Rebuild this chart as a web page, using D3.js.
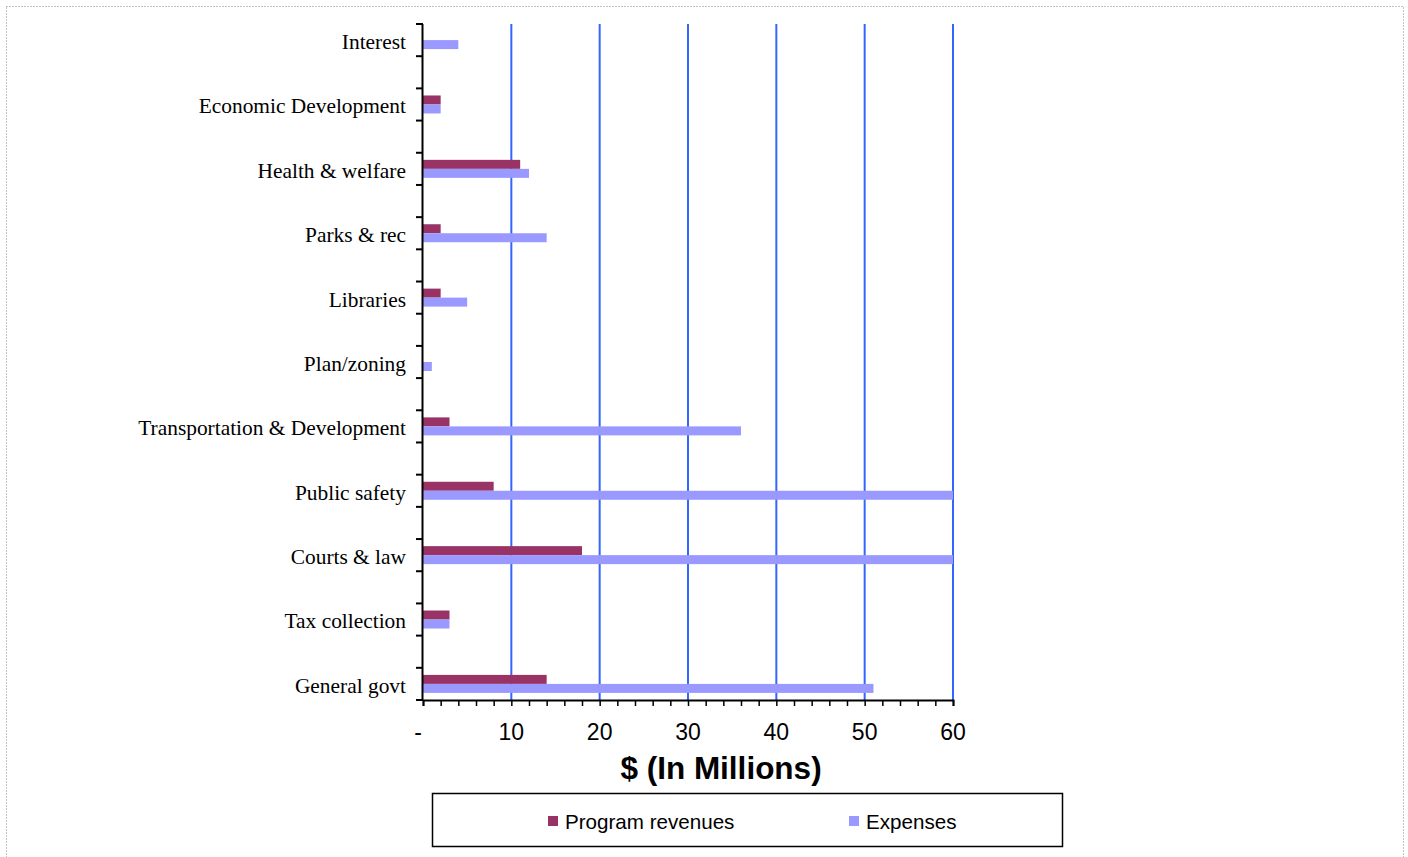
<!DOCTYPE html>
<html>
<head>
<meta charset="utf-8">
<script src="https://cdn.jsdelivr.net/npm/d3@7"></script>
<style>
  body { margin: 0; background: #fff; }
  svg { display: block; }
</style>
</head>
<body>
<div id="chart"></div>
<script>
// categories top -> bottom
var categories = ["Interest", "Economic Development", "Health & welfare", "Parks & rec",
  "Libraries", "Plan/zoning", "Transportation & Development", "Public safety",
  "Courts & law", "Tax collection", "General govt"];
var revenues = [0, 2, 11, 2, 2, 0, 3, 8, 18, 3, 14];
var expenses = [4, 2, 12, 14, 5, 1, 36, 60, 60, 3, 51];
var xTicks = [0, 10, 20, 30, 40, 50, 60];
var seriesNames = ["Program revenues", "Expenses"];
var colors = ["#993366", "#9999FF"];

var width = 1408, height = 857;
var svg = d3.select("#chart").append("svg")
    .attr("width", width)
    .attr("height", height);

// outer dotted frame
svg.append("rect")
    .attr("x", 6.5).attr("y", 6.5)
    .attr("width", 1397).attr("height", 860)
    .attr("fill", "none")
    .attr("stroke", "#888")
    .attr("stroke-dasharray", "1,2");

const pLeft = 423, pRight = 953, pTop = 24, pBottom = 700;
const step = (pBottom - pTop) / 10.5;

var x = d3.scaleLinear().domain([0, 60]).range([pLeft, pRight]);
var y = d3.scalePoint().domain(categories)
    .range([pTop + step / 4, pBottom - step / 4]);
const barH = 9;

// gridlines
svg.append("g").selectAll("line")
    .data(xTicks.filter(d => d > 0))
    .enter().append("line")
    .attr("x1", d => x(d)).attr("x2", d => x(d))
    .attr("y1", pTop).attr("y2", pBottom)
    .attr("stroke", "#3366FF")
    .attr("stroke-width", 2);

// bars
var rows = svg.append("g").selectAll("g")
    .data(categories)
    .enter().append("g");

rows.append("rect")
    .attr("x", pLeft)
    .attr("y", d => y(d) - barH)
    .attr("width", (d, i) => x(revenues[i]) - pLeft)
    .attr("height", barH)
    .attr("fill", colors[0]);

rows.append("rect")
    .attr("x", pLeft)
    .attr("y", d => y(d))
    .attr("width", (d, i) => x(expenses[i]) - pLeft)
    .attr("height", barH)
    .attr("fill", colors[1]);

// category labels
rows.append("text")
    .attr("x", 406)
    .attr("y", d => y(d) + 4)
    .attr("text-anchor", "end")
    .attr("dominant-baseline", "middle")
    .style("font-family", "'Liberation Serif', 'Times New Roman', serif")
    .style("font-size", "21.4px")
    .text(d => d);

// y axis line + ticks every half step
svg.append("line")
    .attr("x1", pLeft - 0.5).attr("x2", pLeft - 0.5)
    .attr("y1", pTop).attr("y2", pBottom)
    .attr("stroke", "#000").attr("stroke-width", 2);
svg.append("g").selectAll("line")
    .data(d3.range(0, 22))
    .enter().append("line")
    .attr("x1", pLeft - 7).attr("x2", pLeft)
    .attr("y1", k => pTop + k * step / 2)
    .attr("y2", k => pTop + k * step / 2)
    .attr("stroke", "#000").attr("stroke-width", 2);

// x axis
var xAxis = d3.axisBottom(x)
    .tickValues(d3.range(0, 61, 2))
    .tickSize(6)
    .tickFormat("");
var gx = svg.append("g")
    .attr("transform", `translate(0,${pBottom})`)
    .call(xAxis);
gx.select(".domain").attr("stroke", "#000").attr("stroke-width", 2);
gx.selectAll(".tick line").attr("stroke", "#000").attr("stroke-width", 1.5);

svg.append("g").selectAll("text")
    .data(xTicks)
    .enter().append("text")
    .attr("x", d => d === 0 ? x(d) - 5 : x(d))
    .attr("y", 740)
    .attr("text-anchor", "middle")
    .style("font-family", "'Liberation Sans', Arial, sans-serif")
    .style("font-size", "23px")
    .text(d => d === 0 ? "-" : d);

svg.append("text")
    .attr("x", 721).attr("y", 779)
    .attr("text-anchor", "middle")
    .style("font-family", "'Liberation Sans', Arial, sans-serif")
    .style("font-size", "31.5px")
    .style("font-weight", "bold")
    .text("$ (In Millions)");

// legend
svg.append("rect")
    .attr("x", 432.5).attr("y", 793.5)
    .attr("width", 630).attr("height", 53)
    .attr("fill", "#fff")
    .attr("stroke", "#000")
    .attr("stroke-width", 1.5);

var legendX = [548, 849];
var lg = svg.append("g").selectAll("g")
    .data(seriesNames)
    .enter().append("g")
    .attr("transform", (d, i) => `translate(${legendX[i]},816)`);
lg.append("rect")
    .attr("width", 10).attr("height", 10)
    .attr("fill", (d, i) => colors[i]);
lg.append("text")
    .attr("x", 17).attr("y", 13)
    .style("font-family", "'Liberation Sans', Arial, sans-serif")
    .style("font-size", "20.6px")
    .text(d => d);
</script>
</body>
</html>
